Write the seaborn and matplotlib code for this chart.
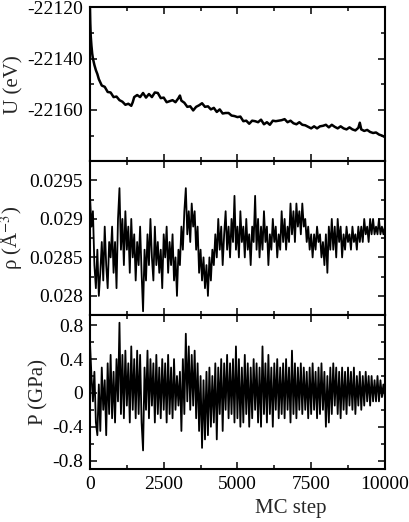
import numpy as np
import pandas as pd
import matplotlib
matplotlib.use('Agg')
import matplotlib.pyplot as plt
from matplotlib.ticker import FuncFormatter, FixedLocator
import seaborn as sns

# Energy U (eV) vs MC step
u_steps = [0, 10, 25, 50, 75, 100, 150, 200, 250, 300, 400, 500, 600, 700, 800, 900,
           1000, 1100, 1200, 1300, 1400, 1450, 1500, 1600, 1700, 1800, 1900, 2000, 2100,
           2200, 2300, 2400, 2500, 2600, 2700, 2800, 2900, 3000, 3050, 3100, 3200, 3300,
           3400, 3500, 3600, 3700, 3800, 3900, 4000, 4100, 4200, 4300, 4400, 4500, 4600,
           4700, 4800, 4900, 5000, 5100, 5200, 5300, 5400, 5500, 5600, 5700, 5800, 5900,
           6000, 6100, 6200, 6300, 6400, 6500, 6600, 6700, 6800, 6900, 7000, 7100, 7200,
           7300, 7400, 7500, 7600, 7700, 7800, 7900, 8000, 8100, 8200, 8300, 8400, 8500,
           8600, 8700, 8800, 8900, 9000, 9100, 9150, 9200, 9300, 9400, 9500, 9600, 9700,
           9800, 9900, 10000]
u_vals = [-22120.5, -22126, -22131, -22135, -22138, -22140, -22142.5, -22144.5, -22146,
          -22148, -22150.5, -22151, -22153, -22153.2, -22155, -22154.8, -22156.2, -22156.8,
          -22158, -22157.6, -22158.4, -22157, -22155, -22154.2, -22155, -22153.4, -22155.2,
          -22153.8, -22155, -22153.2, -22153.4, -22155.4, -22155.2, -22157, -22156.6,
          -22156.2, -22157, -22155.4, -22154.4, -22156.4, -22157.2, -22158.8, -22158.6,
          -22160.2, -22158.8, -22158.2, -22157.4, -22158.8, -22158.6, -22159.8, -22159.2,
          -22160.8, -22159.8, -22161.4, -22161.2, -22161.2, -22162.2, -22162.4, -22162.8,
          -22162.6, -22164.4, -22164.2, -22165.4, -22164.2, -22164.4, -22164.8, -22163.8,
          -22165.6, -22164.8, -22165.8, -22164.2, -22164.4, -22164.2, -22164, -22163.6,
          -22164.8, -22164.2, -22165.2, -22165.6, -22164.8, -22165.8, -22166, -22166.6,
          -22167.2, -22166.4, -22167.2, -22166.4, -22166.2, -22165.8, -22166.8, -22165.8,
          -22166.6, -22167.2, -22166.4, -22167.2, -22167.6, -22166.8, -22167.6, -22168,
          -22167, -22165, -22167.6, -22168.2, -22167.8, -22168.6, -22169, -22168.8,
          -22169.6, -22170, -22170.6]

# Density rho (1e-4 A^-3) and pressure P (0.01 GPa), every 50 MC steps
rho_steps = list(range(0, 10001, 50))
rho_1e4 = [293, 289, 291, 284, 281, 286, 280, 283, 287, 282, 289, 284, 281, 287, 285, 289,
           283, 287, 281, 290, 294, 286, 290, 284, 291, 286, 289, 283, 290, 285, 288, 282,
           287, 284, 289, 283, 278, 286, 282, 288, 284, 290, 285, 282, 289, 284, 287, 283,
           286, 281, 288, 285, 289, 283, 287, 284, 288, 282, 285, 280, 286, 284, 289, 286,
           291, 294, 288, 291, 287, 292, 289, 291, 286, 289, 283, 286, 282, 285, 281, 284,
           280, 285, 282, 286, 284, 288, 285, 290, 286, 289, 284, 288, 291, 286, 289, 285,
           290, 287, 293, 286, 289, 285, 291, 287, 289, 285, 290, 286, 288, 284, 289, 287,
           293, 286, 290, 285, 289, 286, 291, 287, 289, 284, 288, 286, 290, 287, 289, 285,
           288, 286, 291, 287, 290, 286, 289, 287, 292, 288, 291, 287, 292, 289, 291, 288,
           292, 289, 290, 287, 289, 286, 288, 285, 288, 286, 289, 287, 288, 285, 287, 284,
           288, 283, 289, 286, 290, 286, 289, 285, 290, 287, 289, 285, 288, 286, 289, 287,
           288, 286, 289, 287, 288, 286, 289, 287, 289, 287, 290, 288, 289, 287, 290, 288,
           290, 288, 289, 288, 290, 288, 289, 288, 289]
p_001 = [60, 20, -10, 25, -35, -50, 10, -45, 30, -20, 15, -50, 35, -25, 45, -30, 25, -35,
         40, -10, 83, -25, 45, -30, 50, -15, 35, -35, 55, -20, 40, -30, 50, -25, 45, -35,
         -68, 30, -20, 50, -30, 40, -15, 35, -35, 45, -25, 30, -30, 40, -20, 35, -35, 45,
         -25, 30, -30, 40, -20, 20, -15, 25, -45, 40, -25, 70, -10, 55, -20, 45, -15, 50,
         -30, 35, -45, 20, -65, 15, -55, 25, -50, 30, -40, 20, -35, 35, -55, 30, -25, 40,
         -45, 35, -20, 45, -30, 35, -25, 40, -35, 55, -30, 40, -40, 30, -35, 45, -25, 35,
         -40, 30, -30, 40, -20, 35, -35, 30, -40, 55, -25, 35, -35, 45, -25, 30, -40, 35,
         -20, 40, -30, 30, -25, 35, -30, 40, -20, 30, -35, 50, -25, 35, -30, 30, -20, 35,
         -25, 30, -20, 25, -30, 30, -25, 35, -20, 25, -30, 30, -25, 35, -20, 25, -40, 20,
         -35, 30, -25, 35, -15, 30, -25, 25, -30, 30, -20, 25, -25, 30, -15, 25, -20, 30,
         -25, 20, -15, 25, -20, 20, -15, 25, -10, 20, -15, 20, -10, 15, -10, 20, -10, 15,
         -5, 10, -5]

df_u = pd.DataFrame({'step': u_steps, 'U': u_vals})
df_rp = pd.DataFrame({'step': rho_steps,
                      'rho': np.array(rho_1e4) / 1e4,
                      'P': np.array(p_001) / 100})

sns.set_theme(style='ticks')
plt.rcParams['font.family'] = ['Liberation Serif', 'DejaVu Serif']
plt.rcParams['mathtext.fontset'] = 'stix'
plt.rcParams['axes.unicode_minus'] = False

fig, axes = plt.subplots(3, 1, figsize=(4.09, 5.22), dpi=100, sharex=True)
fig.subplots_adjust(left=0.22, right=0.941, top=0.986, bottom=0.1015, hspace=0)

sns.lineplot(data=df_u, x='step', y='U', ax=axes[0], color='black', linewidth=1.8)
sns.lineplot(data=df_rp, x='step', y='rho', ax=axes[1], color='black', linewidth=1.3)
sns.lineplot(data=df_rp, x='step', y='P', ax=axes[2], color='black', linewidth=1.3)

axes[0].set_ylim(-22180, -22120)
axes[0].yaxis.set_major_locator(FixedLocator([-22160, -22140, -22120]))
axes[0].yaxis.set_minor_locator(FixedLocator([-22170, -22150, -22130]))
axes[0].set_ylabel('U (eV)', fontsize=15, labelpad=3)

axes[1].set_ylim(0.02775, 0.02975)
axes[1].yaxis.set_major_locator(FixedLocator([0.028, 0.0285, 0.029, 0.0295]))
axes[1].yaxis.set_minor_locator(FixedLocator([0.02825, 0.02875, 0.02925]))
axes[1].set_ylabel('ρ (Å$^{-3}$)', fontsize=15, labelpad=3)

axes[2].set_ylim(-0.9, 0.92)
axes[2].yaxis.set_major_locator(FixedLocator([-0.8, -0.4, 0, 0.4, 0.8]))
axes[2].yaxis.set_minor_locator(FixedLocator([-0.6, -0.2, 0.2, 0.6]))
axes[2].set_ylabel('P (GPa)', fontsize=15, labelpad=3)

axes[2].set_xlim(0, 10000)
axes[2].xaxis.set_major_locator(FixedLocator([0, 2500, 5000, 7500, 10000]))
axes[2].xaxis.set_minor_locator(FixedLocator([1250, 3750, 6250, 8750]))
axes[2].set_xlabel('MC step', fontsize=15, x=0.68, labelpad=4)

fmt = FuncFormatter(lambda v, pos: '{:g}'.format(round(v, 6)))
for ax in axes:
    ax.yaxis.set_major_formatter(fmt)
    ax.xaxis.set_major_formatter(fmt)
    ax.tick_params(which='both', direction='in', top=True, right=True,
                   labelsize=14, colors='black')
    ax.tick_params(which='major', length=5, width=1.1)
    ax.tick_params(which='minor', length=3, width=1.1)
    ax.tick_params(axis='y', which='major', pad=5)
    ax.tick_params(axis='x', which='major', pad=5)
    for s in ax.spines.values():
        s.set_linewidth(1.5)
        s.set_color('black')
for ax in axes[:2]:
    ax.set_xlabel('')

fig.savefig('out.png', dpi=100)
